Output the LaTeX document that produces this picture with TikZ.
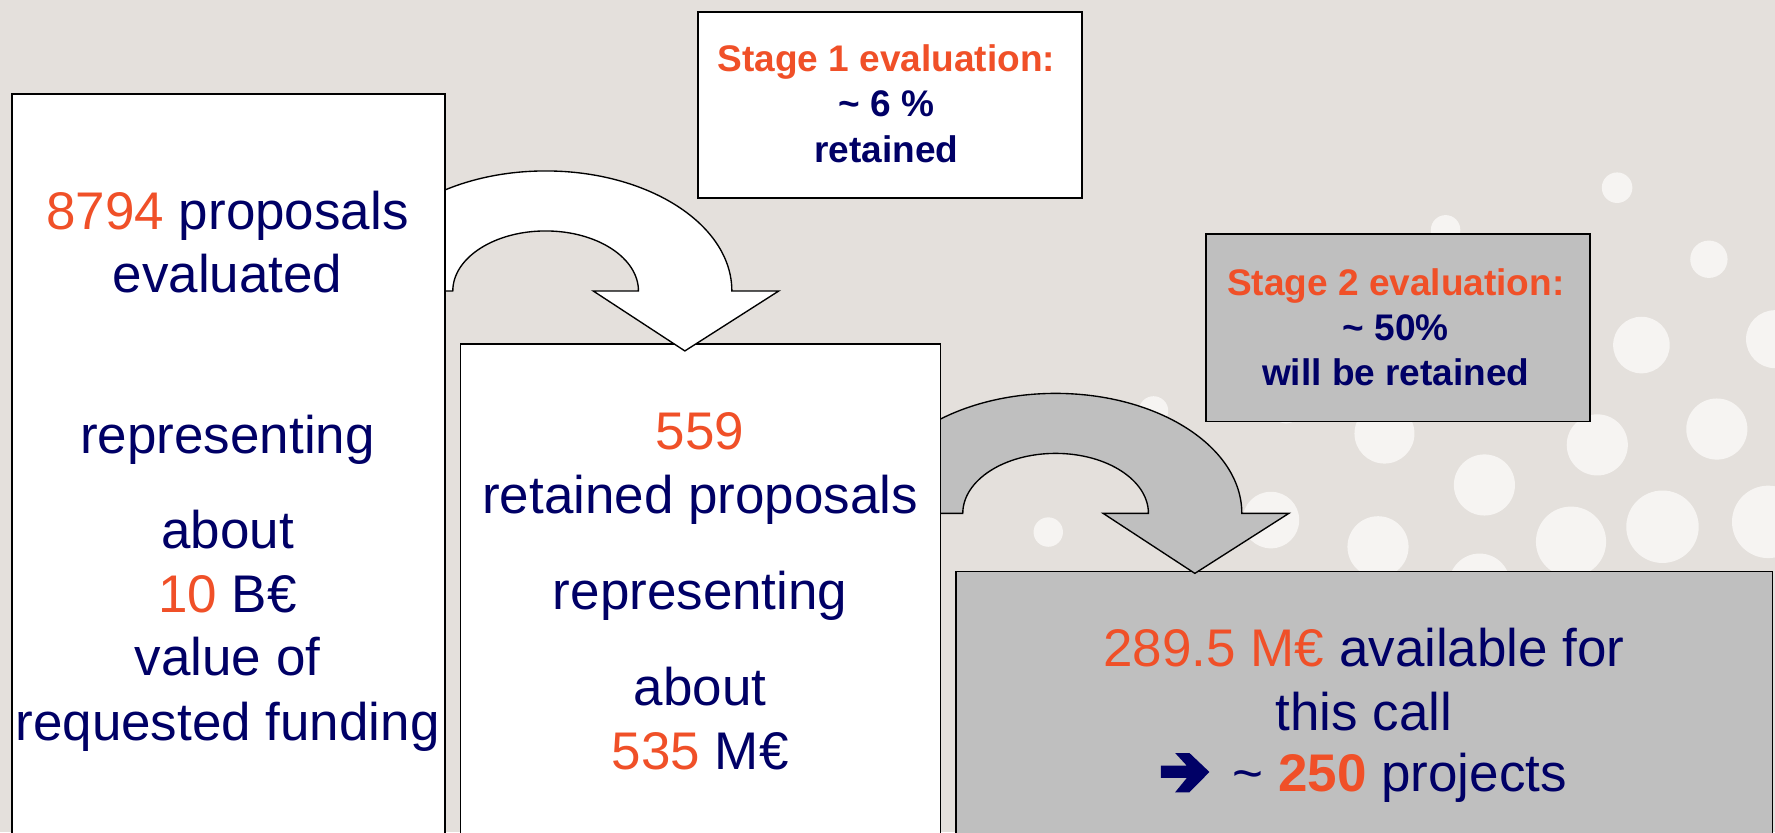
\documentclass[tikz,border=0pt]{standalone}
\usepackage{fontspec}
\setmainfont{Liberation Sans}
\definecolor{bg}{HTML}{E4E0DC}
\definecolor{dotc}{HTML}{F6F4F2}
\definecolor{boxgray}{HTML}{BFBFBF}
\definecolor{hot}{HTML}{F05028}
\definecolor{navy}{HTML}{000066}
\newcommand\orng[1]{\textcolor{hot}{#1}}
\tikzset{
  panel/.style={draw=black, line width=0.8pt, anchor=north west, inner sep=0pt},
  txt/.style={font=\fontsize{23.4pt}{28pt}\selectfont, text=navy, anchor=base, inner sep=0pt},
  stg/.style={font=\bfseries\fontsize{16.35pt}{19.5pt}\selectfont, text=navy, anchor=base, inner sep=0pt},
  pics/uturn/.style={code={
    \draw[fill=#1, line width=0.6pt, line join=miter]
      (-164.5,0) arc[start angle=180, end angle=0, x radius=82.25pt, y radius=53pt]
      -- (206,0) -- (123,53) -- (42,0) -- (82,0)
      arc[start angle=0, end angle=180, x radius=41pt, y radius=26.5pt] -- cycle;
  }}
}
\begin{document}
\begin{tikzpicture}[x=0.5pt,y=-0.5pt]
\clip (0,0) rectangle (1568,735);
\fill[bg] (0,0) rectangle (1568,735);
% background dots
\foreach \x/\y/\r in {1428.5/165.8/13.5, 1277/203/13, 1509.6/229/16.5, 1450/304.8/25,
  1568/299.6/25.6, 1516.6/379/27, 1411/393/27, 1223/383/26.5, 1136/360/14,
  1019/363/13, 1311.3/428.4/27, 1468.6/465.3/32, 1562/461/32, 1122.7/459.4/25,
  926/470/13, 1217.3/483/27, 1387.8/478.5/31, 1307/516/27}
  \fill[dotc] (\x,\y) circle[radius=\r*0.5pt];
% panels and arrows (drawing order gives the overlaps)
\node[panel, fill=boxgray, minimum width=360.5pt, minimum height=130pt] (res) at (844,504) {};
\pic (arr2) at (932.5,453.5) {uturn=boxgray};
\node[panel, fill=white, minimum width=212pt, minimum height=230pt] (ret) at (406,303) {};
\pic (arr1) at (482,257) {uturn=white};
\node[panel, fill=white, minimum width=191pt, minimum height=339pt] (evl) at (10,82) {};
\node[panel, fill=white, minimum width=169.5pt, minimum height=82pt] (st1) at (616,10) {};
\node[panel, fill=boxgray, minimum width=169.65pt, minimum height=82.8pt] (st2) at (1064.7,206) {};
% texts of the first panel
\node[txt] (e1) at (201,202.6) {\orng{8794} proposals};
\node[txt] (e2) at (201,258.2) {evaluated};
\node[txt] (e3) at (201,400.5) {representing};
\node[txt] (e4) at (201,484.4) {about};
\node[txt] (e5) at (201,541) {\orng{10} B€};
\node[txt] (e6) at (201,597) {value of};
\node[txt] (e7) at (201,653.7) {requested funding};
% texts of the second panel
\node[txt] (r1) at (618.5,397.5) {\orng{559}};
\node[txt] (r2) at (618.5,454) {retained proposals};
\node[txt] (r3) at (618.5,538.3) {representing};
\node[txt] (r4) at (618.5,622.8) {about};
\node[txt] (r5) at (618.5,679.6) {\orng{535} M€};
% texts of the result panel
\node[txt] (f1) at (1205,589) {\orng{289.5 M€} available for};
\node[txt] (f2) at (1205,645) {this call};
\node[txt] (f3) at (1205,699) {\hspace{21.5pt}\hspace{0.15em} \textasciitilde{} \textbf{\orng{250}} projects};
% heavy arrow glyph at the start of the last line
\begin{scope}[shift={(f3.base west)}, x=0.147pt, y=0.147pt]
  \fill[navy] (0,40) -- (0,77) -- (78,77) -- (43,115) -- (86,115) -- (146,58)
    -- (86,-3) -- (43,-3) -- (78,40) -- cycle;
\end{scope}
% stage boxes
\node[stg] (s1a) at (783,63.3) {\orng{Stage 1 evaluation:}};
\node[stg] (s1b) at (783,103) {\textasciitilde{} 6 \%};
\node[stg] (s1c) at (783,143.4) {retained};
\node[stg] (s2a) at (1233,260.6) {\orng{Stage 2 evaluation:}};
\node[stg] (s2b) at (1233,301) {\textasciitilde{} 50\%};
\node[stg] (s2c) at (1233,340.1) {will be retained};
\end{tikzpicture}
\end{document}
